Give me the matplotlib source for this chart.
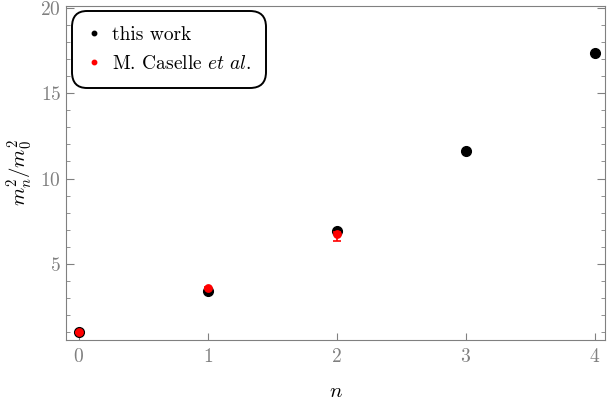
import numpy as np
import matplotlib
matplotlib.use("Agg")
import matplotlib.pyplot as plt
from matplotlib.lines import Line2D

plt.rcParams['font.family'] = 'serif'
plt.rcParams['font.serif'] = ['cmr10']
plt.rcParams['mathtext.fontset'] = 'cm'
plt.rcParams['axes.formatter.use_mathtext'] = True

# data
n_this = [0, 1, 2, 3, 4]
m_this = [1.0, 3.42, 6.93, 11.6, 17.35]

n_cas = [0, 1, 2]
m_cas = [1.0, 3.6, 6.75]
err_lo = [0.02, 0.08, 0.4]
err_hi = [0.02, 0.08, 0.12]

gray = '#808080'

fig = plt.figure(figsize=(6.08, 4.07), dpi=100)
ax = fig.add_axes([66/608, 1 - 340/407, (605-66)/608, (340-6)/407])

ax.plot(n_this, m_this, 'o', color='k', ms=7, zorder=3)
ax.errorbar(n_cas, m_cas, yerr=[err_lo, err_hi], fmt='o', color='red', ms=5.3,
            capsize=3, elinewidth=1.2, capthick=1.2, zorder=4)

ax.set_xlim(-0.1, 4.08)
ax.set_ylim(0.55, 20.1)
ax.set_xticks([0, 1, 2, 3, 4])
ax.set_yticks([5, 10, 15, 20])
ax.set_yticks(np.arange(1, 21, 1), minor=True)

for s in ax.spines.values():
    s.set_color(gray)
ax.tick_params(axis='both', which='both', direction='in', colors=gray,
               labelcolor=gray, labelsize=14)
ax.tick_params(axis='y', which='both', right=True)
ax.tick_params(axis='y', which='major', length=6)
ax.tick_params(axis='y', which='minor', length=3)
ax.tick_params(axis='x', which='major', length=5, pad=6)

ax.set_xlabel(r'$n$', fontsize=15, labelpad=12)
ax.set_ylabel(r'$m_n^2/m_0^2$', fontsize=15, labelpad=4)

handles = [Line2D([], [], ls='none', marker='o', color='k', ms=3.2),
           Line2D([], [], ls='none', marker='o', color='red', ms=3.2)]
labels = ['this work', r'M. Caselle $et\ al.$']
leg = ax.legend(handles, labels, loc='upper left', bbox_to_anchor=(0.011, 0.985),
                borderaxespad=0, fontsize=14, frameon=True, fancybox=True,
                handletextpad=0.5, borderpad=0.75,
                handlelength=0.8, labelspacing=0.6)
frame = leg.get_frame()
frame.set_edgecolor('k')
frame.set_linewidth(1.4)
frame.set_alpha(1)
frame.set_boxstyle('round,pad=0,rounding_size=0.8')

plt.savefig('out.png', dpi=100)
